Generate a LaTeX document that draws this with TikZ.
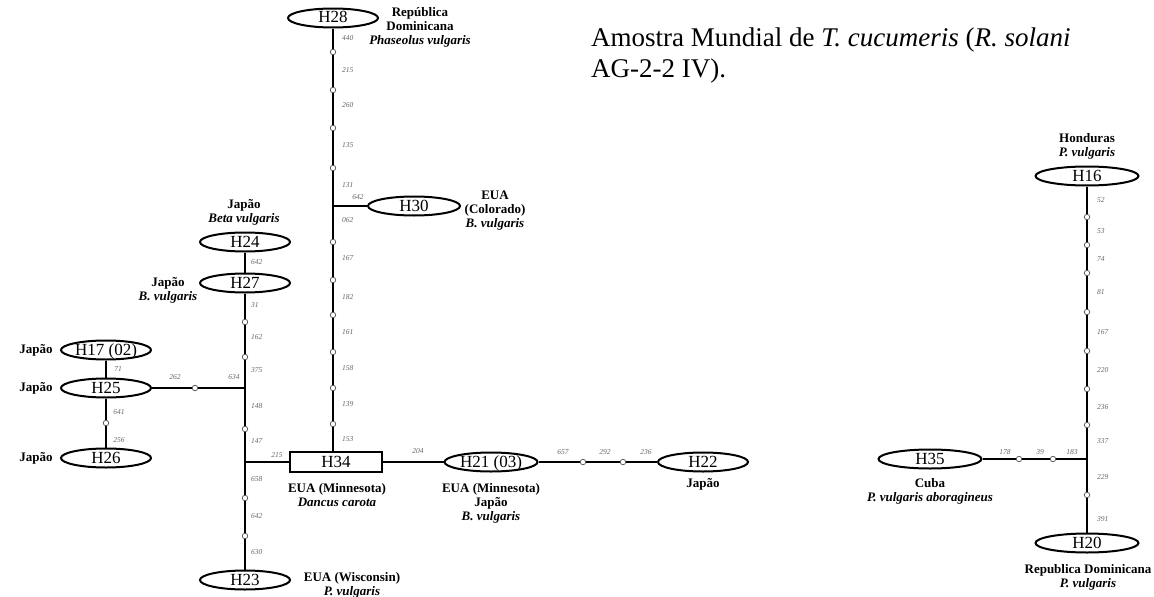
\documentclass[tikz,border=0pt]{standalone}
\usepackage{fontspec}
\setmainfont{Liberation Serif}
\usetikzlibrary{shapes.geometric}
\begin{document}
\begin{tikzpicture}[x=1pt,y=-1pt,
  hap/.style={ellipse,draw,line width=2pt,minimum width=90pt,minimum height=19pt,inner sep=0pt,text height=11pt,text depth=1pt,font=\fontsize{17}{17}\selectfont},
  hbox/.style={rectangle,draw,line width=2pt,minimum width=92pt,minimum height=20pt,inner sep=0pt,text height=11pt,text depth=1pt,font=\fontsize{17}{17}\selectfont},
  mut/.style={circle,draw=black!70,fill=white,line width=0.7pt,minimum size=5.5pt,inner sep=0pt},
  link/.style={line width=2.2pt},
  num/.style={font=\fontsize{7.5}{7.5}\selectfont\itshape,text=black!60,inner sep=0pt},
  lab/.style={font=\fontsize{13}{14}\selectfont\bfseries,align=center,inner sep=0pt},
  captxt/.style={font=\fontsize{27}{27}\selectfont,inner sep=0pt,anchor=base west}
]
\useasboundingbox (0,0) rectangle (1154,597);

% caption
\node[captxt] (t1) at (591,46) {Amostra Mundial de \textit{T. cucumeris} (\textit{R. solani}};
\node[captxt] (t2) at (591,77) {AG-2-2 IV).};

% haplotypes
\node[hap] (H28) at (333,18) {H28};
\node[hap,minimum width=92pt] (H30) at (414,206) {H30};
\node[hap] (H24) at (245,242) {H24};
\node[hap] (H27) at (245,283) {H27};
\node[hap] (H17) at (106,350) {H17 (02)};
\node[hap] (H25) at (106,388) {H25};
\node[hap] (H26) at (106,458) {H26};
\node[hbox] (H34) at (336,462) {H34};
\node[hap,minimum width=93pt] (H21) at (491,462) {H21 (03)};
\node[hap] (H22) at (703,462) {H22};
\node[hap] (H23) at (245,580) {H23};
\node[hap,minimum width=103pt] (H16) at (1087,176) {H16};
\node[hap,minimum width=103pt] (H35) at (930,459) {H35};
\node[hap,minimum width=103pt] (H20) at (1087,543) {H20};

% H28 chain
\foreach \y [count=\i] in {52,90,128,168,242,280,315,352,388,424}
  \node[mut] (a\i) at (333,\y) {};
\coordinate (j30) at (333,206);
\draw[link] (H28) -- (a1) -- (a2) -- (a3) -- (a4) -- (j30) -- (a5) -- (a6) -- (a7) -- (a8) -- (a9) -- (a10) -- (a10 |- H34.north);
\draw[link] (j30) -- (H30);

% left chain
\node[mut] (c1) at (245,322) {};
\node[mut] (c2) at (245,357) {};
\coordinate (j25) at (245,388);
\node[mut] (c3) at (245,429) {};
\coordinate (j34) at (245,462);
\node[mut] (c4) at (245,498) {};
\node[mut] (c5) at (245,536) {};
\draw[link] (H24) -- (H27) -- (c1) -- (c2) -- (j25) -- (c3) -- (j34) -- (c4) -- (c5) -- (H23);
\node[mut] (f1) at (195,388) {};
\draw[link] (H25) -- (f1) -- (j25);
\draw[link] (j34) -- (H34);
\node[mut] (e1) at (106,423) {};
\draw[link] (H17) -- (H25) -- (e1) -- (H26);

% H34 - H21 - H22
\node[mut] (g1) at (583,462) {};
\node[mut] (g2) at (623,462) {};
\draw[link] (H34) -- (H21) -- (g1) -- (g2) -- (H22);

% right network
\foreach \y [count=\i] in {217,245,273,312,351,389,425}
  \node[mut] (r\i) at (1087,\y) {};
\coordinate (j35) at (1087,459);
\node[mut] (r8) at (1087,495) {};
\draw[link] (H16) -- (r1) -- (r2) -- (r3) -- (r4) -- (r5) -- (r6) -- (r7) -- (j35) -- (r8) -- (H20);
\node[mut] (s1) at (1019,459) {};
\node[mut] (s2) at (1053,459) {};
\draw[link] (H35) -- (s1) -- (s2) -- (j35);

% mutation numbers
\foreach \y/\t [count=\i] in {38/440,70/215,105/260,145/135,185/131,220/062,258/167,297/182,332/161,368/158,404/139,439/153}
  \node[num,anchor=west] (na\i) at (342,\y) {\t};
\node[num] (nb1) at (358,197) {642};
\foreach \y/\t [count=\i] in {262/642,305/31,337/162,370/375,406/148,441/147,479/658,516/642,552/630}
  \node[num,anchor=west] (nc\i) at (251,\y) {\t};
\node[num] (nd1) at (277,455) {215};
\node[num] (nd2) at (234,377) {634};
\node[num] (nd3) at (175,377) {262};
\node[num] (nd4) at (118,369) {71};
\node[num] (nd5) at (119,412) {641};
\node[num] (nd6) at (119,440) {256};
\node[num] (ne1) at (418,451) {204};
\node[num] (ne2) at (563,452) {657};
\node[num] (ne3) at (605,452) {292};
\node[num] (ne4) at (646,452) {236};
\foreach \y/\t [count=\i] in {200/52,231/53,259/74,292/81,332/167,370/220,407/236,441/337,477/229,519/391}
  \node[num,anchor=west] (nr\i) at (1097,\y) {\t};
\node[num] (ns1) at (1005,452) {178};
\node[num] (ns2) at (1040,452) {39};
\node[num] (ns3) at (1072,452) {183};

% place labels
\node[lab] (L28) at (420,27) {República\\Dominicana\\\textit{Phaseolus vulgaris}};
\node[lab] (L30) at (495,211) {EUA\\(Colorado)\\\textit{B. vulgaris}};
\node[lab] (L24) at (244,212) {Japão\\\textit{Beta vulgaris}};
\node[lab] (L27) at (168,290) {Japão\\\textit{B. vulgaris}};
\node[lab] (L17) at (36,350) {Japão};
\node[lab] (L25) at (36,388) {Japão};
\node[lab] (L26) at (36,458) {Japão};
\node[lab] (L34) at (337,495) {EUA (Minnesota)\\\textit{Dancus carota}};
\node[lab] (L21) at (491,503) {EUA (Minnesota)\\Japão\\\textit{B. vulgaris}};
\node[lab] (L22) at (703,484) {Japão};
\node[lab] (L23) at (352,585) {EUA (Wisconsin)\\\textit{P. vulgaris}};
\node[lab] (L16) at (1087,146) {Honduras\\\textit{P. vulgaris}};
\node[lab] (L35) at (930,491) {Cuba\\\textit{P. vulgaris aboragineus}};
\node[lab] (L20) at (1088,577) {Republica Dominicana\\\textit{P. vulgaris}};
\end{tikzpicture}
\end{document}
